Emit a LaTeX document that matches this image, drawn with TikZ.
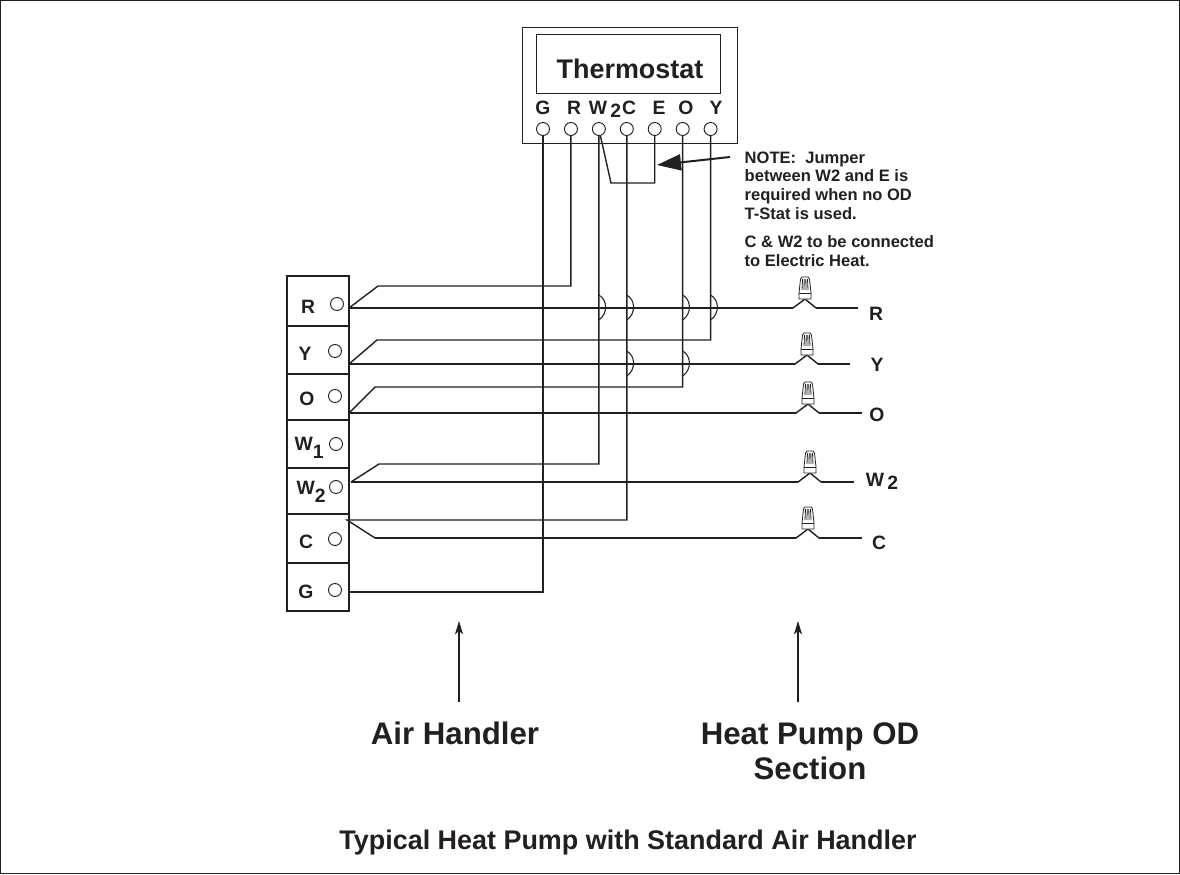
\documentclass[tikz,border=0pt]{standalone}
\usepackage{fontspec}
\setmainfont{Liberation Sans}
\usetikzlibrary{positioning}
\usetikzlibrary{arrows.meta}
\definecolor{ink}{HTML}{231F20}
\newcommand{\lowered}[1]{\raisebox{-0.42em}{#1}}

\begin{document}
\begin{tikzpicture}[
  x = 0.75pt,
  y = -0.75pt,
  line width = 1.05pt,
  color = ink,
  font = \bfseries,
  term/.style = {
    draw,
    circle,
    fill = white,
    line width = 0.7pt,
    inner sep = 0pt,
    minimum size = 9.75pt,
  },
  cell/.style = {
    draw,
    rectangle,
    inner sep = 0pt,
    minimum width = 46.5pt,
  },
  tag/.style = {
    anchor = base,
    inner sep = 0pt,
    font = \bfseries\fontsize{14.5}{16}\selectfont,
  },
  side/.style = {
    anchor = north west,
    align = left,
    inner sep = 0pt,
    font = \bfseries\fontsize{12.4}{14}\selectfont,
  },
  big/.style = {
    anchor = base,
    inner sep = 0pt,
    font = \bfseries\fontsize{23.4}{26}\selectfont,
  },
  point/.style = {
    -{Stealth[length=10pt,width=6pt,inset=2.5pt]},
    line width = 0.8pt,
  },
  hop/.pic = {
    \draw[line width=0.8pt] (0,-13) .. controls (9,-8) and (9,6) .. (0,12);
  },
  wirenut/.pic = {
    \coordinate (-w) at (-12,9);
    \coordinate (-e) at (11,9);
    \draw (-w) -- (0,0) -- (-e);
    \draw[line width=0.6pt,fill=white] (-6,0) -- (-6,-6) -- (-4.5,-20) -- (-3,-22) -- (3,-22) -- (4.5,-20) -- (6,-6) -- (6,0) -- cycle;
    \draw[line width=0.6pt] (-6,-6) -- (6,-6);
    \draw[line width=0.6pt] (-3,-9) -- (-2.5,-20);
    \draw[line width=0.6pt] (-1,-9) -- (-0.8,-20);
    \draw[line width=0.6pt] (1,-9) -- (0.8,-20);
    \draw[line width=0.6pt] (3,-9) -- (2.5,-20);
  },
]

  \useasboundingbox (0,0) rectangle (1180,874);
  \draw[line width=0.9pt] (0.5,0.5) rectangle (1179.3,873.3);

  % thermostat
  \node[draw,rectangle,line width=0.7pt,inner sep=0pt,minimum width=161.25pt,minimum height=87pt] (stat) at (629.5,85) {};
  \node[draw,rectangle,line width=0.7pt,inner sep=0pt,minimum width=138pt,minimum height=44.25pt] (screen) at (628,63.5) {};
  \node[inner sep=0pt,font=\bfseries\fontsize{20.2}{22}\selectfont] (statname) at (630,69) {Thermostat};

  \node[term] (tG) at (543,129) {};
  \node[term] (tR) [right=10.5pt of tG] {};
  \node[term] (tW) [right=10.5pt of tR] {};
  \node[term] (tC) [right=10.5pt of tW] {};
  \node[term] (tE) [right=10.5pt of tC] {};
  \node[term] (tO) [right=10.5pt of tE] {};
  \node[term] (tY) [right=10.5pt of tO] {};

  \node[tag] (nG) at (543,114) {G};
  \node[tag] (nR) at (574,114) {R};
  \node[tag] (nW) at (605,114) {W\,\raisebox{-0.2em}{2}};
  \node[tag] (nC) at (629,114) {C};
  \node[tag] (nE) at (659,114) {E};
  \node[tag] (nO) at (686,114) {O};
  \node[tag] (nY) at (716,114) {Y};

  % terminal block
  \node[cell,minimum height=37.5pt] (cR) at (318,301) {};
  \node[cell,minimum height=36pt] (cY) at (318,350) {};
  \node[cell,minimum height=34.5pt] (cO) at (318,397) {};
  \node[cell,minimum height=36pt] (cA) at (318,444) {};
  \node[cell,minimum height=34.5pt] (cB) at (318,491) {};
  \node[cell,minimum height=36.75pt] (cC) at (318,538.5) {};
  \node[cell,minimum height=36pt] (cG) at (318,587) {};

  \node[term] (bR) at (337,304) {};
  \node[term] (bY) at (335,351) {};
  \node[term] (bO) at (335,396) {};
  \node[term] (bA) at (336,444) {};
  \node[term] (bB) at (336,487) {};
  \node[term] (bC) at (335,539) {};
  \node[term] (bG) at (335,590) {};

  \node[tag] (lblR) at (308,313) {R};
  \node[tag] (lblY) at (305,360) {Y};
  \node[tag] (lblO) at (307,405) {O};
  \node[tag] (lblA) at (309,450) {W\lowered{1}};
  \node[tag] (lblB) at (311,494) {W\lowered{2}};
  \node[tag] (lblC) at (306,548) {C};
  \node[tag] (lblG) at (306,598) {G};

  % wire ends on the block
  \coordinate (lR) at (349,308);
  \coordinate (uR) at (378,286);
  \coordinate (lY) at (349,364);
  \coordinate (uY) at (377,340);
  \coordinate (lO) at (349,413);
  \coordinate (uO) at (375,387);
  \coordinate (lW) at (351,482);
  \coordinate (uW) at (379,464);
  \coordinate (lC) at (347,520);
  \coordinate (uC) at (375,538);
  \coordinate (lG) at (349,592);

  % wire nuts
  \pic (nutR) at (805,299) {wirenut};
  \pic (nutY) at (807,355) {wirenut};
  \pic (nutO) at (808,404) {wirenut};
  \pic (nutW) at (810,473) {wirenut};
  \pic (nutC) at (808,529) {wirenut};

  \coordinate (eR) at (858,308);
  \coordinate (eY) at (850,364);
  \coordinate (eO) at (862,413);
  \coordinate (eW) at (854,482);
  \coordinate (eC) at (862,538);

  \node[tag] (rR) at (876,320) {R};
  \node[tag] (rY) at (877,371) {Y};
  \node[tag] (rO) at (877,421) {O};
  \node[tag] (rW) at (882,486) {W\,\raisebox{-0.2em}{2}};
  \node[tag] (rC) at (879,549) {C};

  % wires
  \draw (tG) |- (lG);
  \draw (tR) |- (uR) -- (lR);
  \draw (tW) |- (uW) -- (lW);
  \draw (tC) |- (lC) -- (uC);
  \draw (tO) |- (uO) -- (lO);
  \draw (tY) |- (uY) -- (lY);

  \draw (lR) -- (nutR-w);
  \draw (lY) -- (nutY-w);
  \draw (lO) -- (nutO-w);
  \draw (lW) -- (nutW-w);
  \draw (uC) -- (nutC-w);

  \draw (nutR-e) -- (eR);
  \draw (nutY-e) -- (eY);
  \draw (nutO-e) -- (eO);
  \draw (nutW-e) -- (eW);
  \draw (nutC-e) -- (eC);

  \path (tW |- lR) pic {hop};
  \path (tC |- lR) pic {hop};
  \path (tO |- lR) pic {hop};
  \path (tY |- lR) pic {hop};
  \path (tC |- lY) pic {hop};
  \path (tO |- lY) pic {hop};

  % jumper
  \coordinate (jump) at (611,183);
  \draw (tW) -- (jump) -| (tE);

  % note
  \coordinate (noteTail) at (730,157);
  \coordinate (noteTip) at (657,165);
  \draw[-{Triangle[length=18pt,width=12pt]},line width=1.5pt] (noteTail) -- (noteTip);
  \node[side] (note) at (744,151) {NOTE:\ \ Jumper\\between W2 and E is\\required when no OD\\T-Stat is used.};
  \node[side] (heat) at (744,235) {C \& W2 to be connected\\to Electric Heat.};

  % bottom labels
  \coordinate (tailA) at (459,702);
  \coordinate (tipA) at (459,621);
  \coordinate (tailB) at (798,702);
  \coordinate (tipB) at (798,621);
  \draw[point] (tailA) -- (tipA);
  \draw[point] (tailB) -- (tipB);

  \node[big] (air) at (455,744) {Air Handler};
  \node[big] (pump) at (810,744) {Heat Pump OD};
  \node[big] (section) at (810,779) {Section};
  \node[anchor=base,inner sep=0pt,font=\bfseries\fontsize{20.2}{22}\selectfont] (title) at (628,849) {Typical Heat Pump with Standard Air Handler};

\end{tikzpicture}
\end{document}
